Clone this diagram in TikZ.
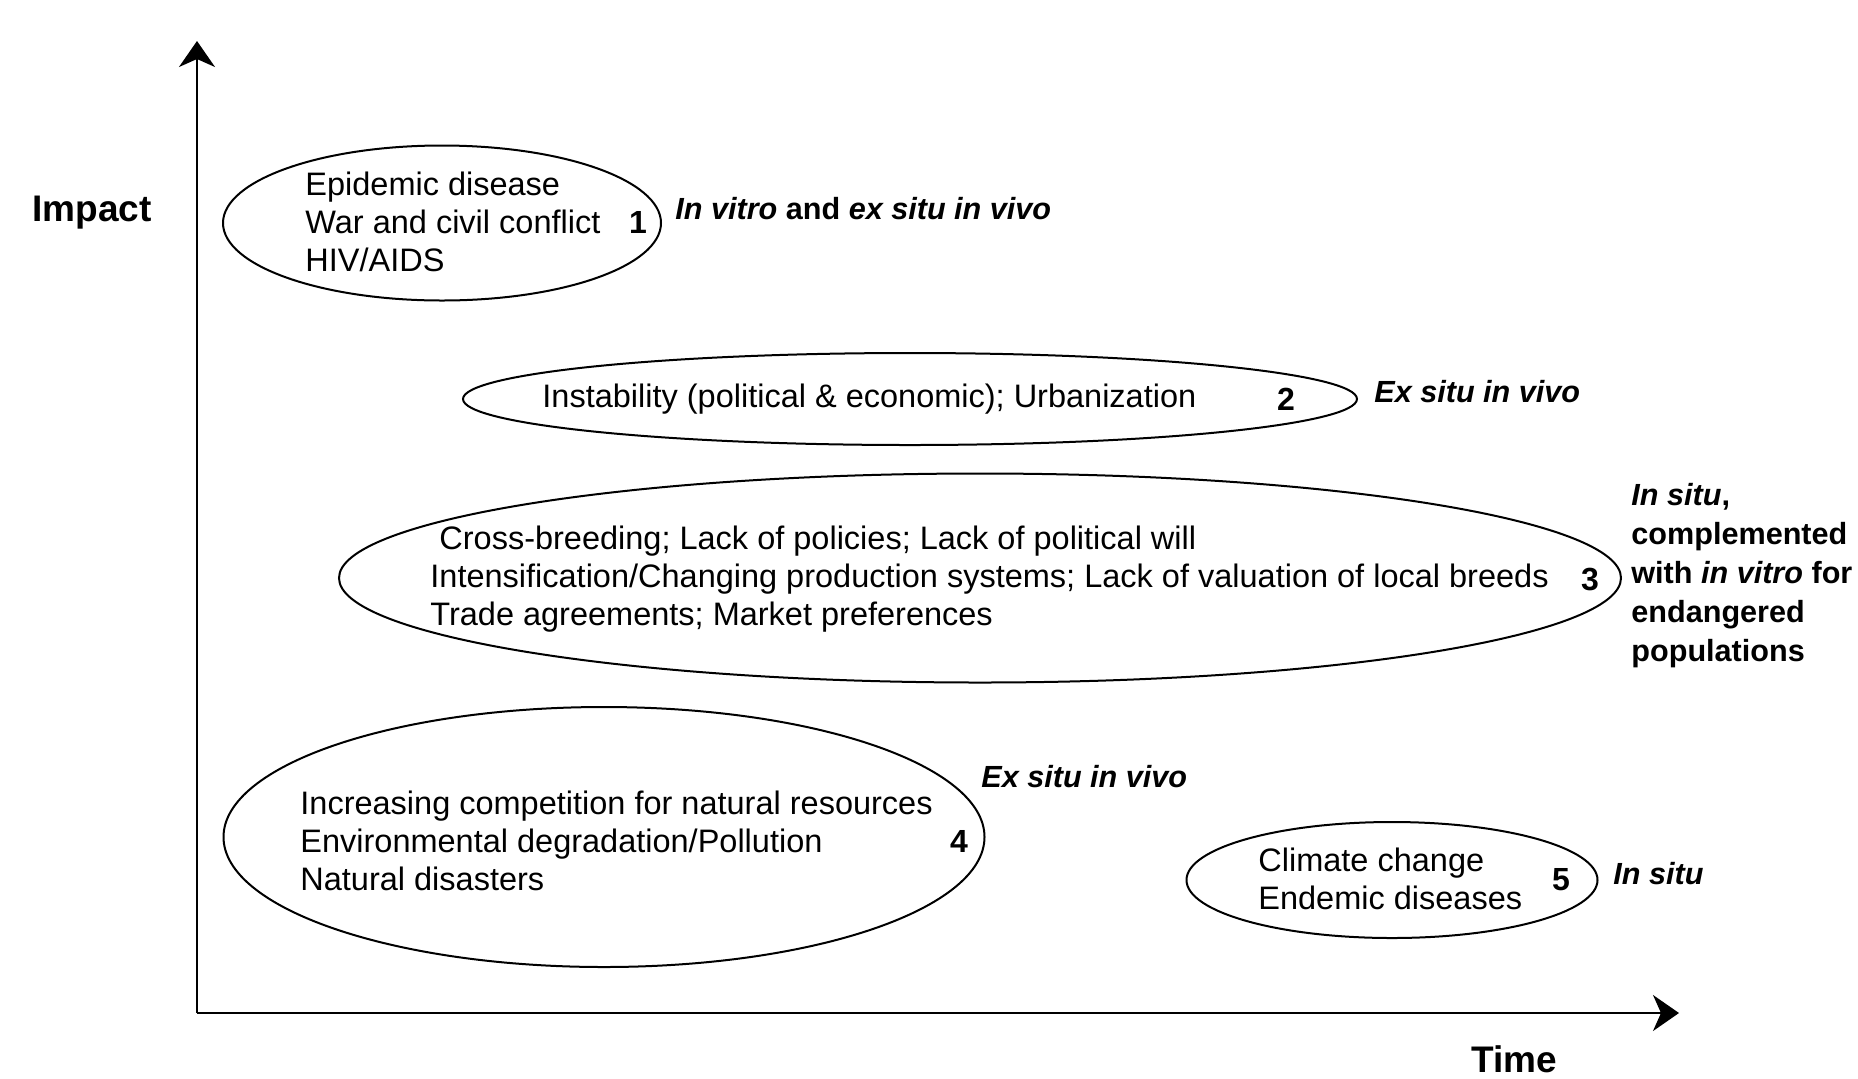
\documentclass[tikz,border=0pt]{standalone}
\usepackage{fontspec}
\setmainfont{Liberation Sans}
\usetikzlibrary{shapes.geometric, arrows.meta}

\tikzset{
  zone/.style={draw, ellipse, line width=1pt, inner sep=0pt},
  threats/.style={anchor=west, align=left, inner sep=0pt, font=\fontsize{16.25}{19}\selectfont},
  rank/.style={inner sep=0pt, font=\fontsize{16}{19}\selectfont\bfseries},
  strategy/.style={anchor=west, align=left, inner sep=0pt, font=\fontsize{15.3}{19.5}\selectfont\bfseries},
  axislabel/.style={inner sep=0pt, font=\fontsize{18.5}{22}\selectfont\bfseries},
  axis/.style={line width=1pt, -{Stealth[length=13pt, width=18pt, inset=4pt]}}
}

\begin{document}
\begin{tikzpicture}[x=0.5pt, y=-0.5pt]
  \useasboundingbox (0,0) rectangle (1858,1078);

  % axes
  \coordinate (origin) at (197,1013);
  \coordinate (ytop) at (197,41);
  \coordinate (xend) at (1679,1013);
  \draw[axis] (origin) -- (ytop);
  \draw[axis] (origin) -- (xend);
  \node[axislabel] (impact) at (92,213) {Impact};
  \node[axislabel] (time) at (1514,1059) {Time};

  % 1
  \node[zone, minimum width=219pt, minimum height=77.5pt] (z1) at (442,223) {};
  \node[threats] (t1) at (305,222) {Epidemic disease\\War and civil conflict\\HIV/AIDS};
  \node[rank] (r1) at (638,222) {1};
  \node[strategy] (s1) at (675,209) {\itshape In vitro\upshape{} and \itshape ex situ in vivo};

  % 2
  \node[zone, minimum width=447pt, minimum height=46pt] (z2) at (910,399) {};
  \node[threats] (t2) at (542,399) {Instability (political \& economic); Urbanization};
  \node[rank] (r2) at (1286,399) {2};
  \node[strategy] (s2) at (1374,392) {\itshape Ex situ in vivo};

  % 3
  \node[zone, minimum width=641pt, minimum height=104.5pt] (z3) at (980,578) {};
  \node[threats] (t3) at (430,579) {\hspace{4.5pt}Cross-breeding; Lack of policies; Lack of political will\\
    Intensification/Changing production systems; Lack of valuation of local breeds\\
    Trade agreements; Market preferences};
  \node[rank] (r3) at (1590,579) {3};
  \node[strategy] (s3) at (1631,576) {\itshape In situ\upshape,\\complemented\\with \itshape in vitro\upshape{} for\\endangered\\populations};

  % 4
  \node[zone, minimum width=380.5pt, minimum height=130pt] (z4) at (604,837) {};
  \node[threats] (t4) at (300,841) {Increasing competition for natural resources\\
    Environmental degradation/Pollution\\Natural disasters};
  \node[rank] (r4) at (959,841) {4};
  \node[strategy] (s4) at (981,777) {\itshape Ex situ in vivo};

  % 5
  \node[zone, minimum width=205.5pt, minimum height=58pt] (z5) at (1392,880) {};
  \node[threats] (t5) at (1258,879) {Climate change\\Endemic diseases};
  \node[rank] (r5) at (1561,880) {5};
  \node[strategy] (s5) at (1613,874) {\itshape In situ};
\end{tikzpicture}
\end{document}
